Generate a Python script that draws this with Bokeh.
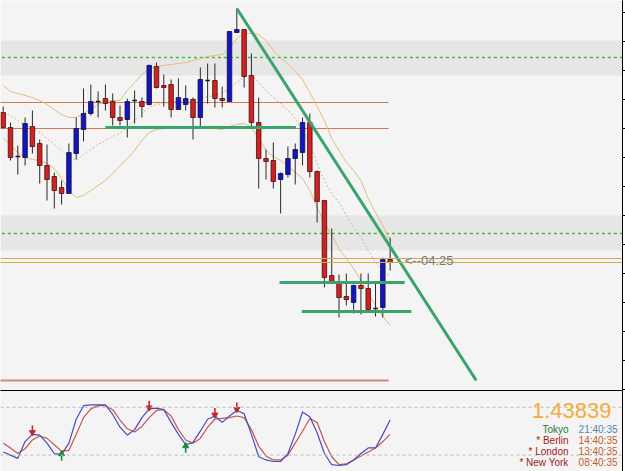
from bokeh.plotting import figure
from bokeh.layouts import column
from bokeh.models import (Range1d, LinearAxis, FixedTicker, Span, Label, BoxAnnotation)
from bokeh.embed import file_html
from bokeh.resources import INLINE

# ---------------- data (EURUSD, hourly) ----------------
opens = [1.44589, 1.44514, 1.44369, 1.44364, 1.44519, 1.44434, 1.44324, 1.44269, 1.44214, 1.44184,
         1.44384, 1.44504, 1.44584, 1.44644, 1.44659, 1.44644, 1.44564, 1.44554, 1.44649, 1.44644,
         1.44629, 1.44819, 1.44724, 1.44729, 1.44604, 1.44629, 1.44654, 1.44564, 1.44749, 1.44749,
         1.44659, 1.44644, 1.44989, 1.45004, 1.44774, 1.44539, 1.44359, 1.44349, 1.44254, 1.44279,
         1.44359, 1.44389, 1.44539, 1.44294, 1.44149, 1.43774, 1.43739, 1.43669, 1.43639, 1.43724,
         1.43709, 1.43609, 1.43614, 1.43854]
highs = [1.44619, 1.44539, 1.44424, 1.44564, 1.44599, 1.44454, 1.44429, 1.44289, 1.44249, 1.44434,
         1.44564, 1.44709, 1.44729, 1.44694, 1.44729, 1.44684, 1.44624, 1.44659, 1.44699, 1.44664,
         1.44829, 1.44839, 1.44779, 1.44754, 1.44759, 1.44724, 1.44664, 1.44814, 1.44834, 1.44834,
         1.44719, 1.44994, 1.45109, 1.45004, 1.44884, 1.44664, 1.44404, 1.44439, 1.44289, 1.44419,
         1.44434, 1.44564, 1.44584, 1.44299, 1.44149, 1.44009, 1.43779, 1.43784, 1.43729, 1.43784,
         1.43784, 1.43744, 1.43864, 1.43964]
lows = [1.44509, 1.44349, 1.44279, 1.44324, 1.44384, 1.44234, 1.44149, 1.44109, 1.44129, 1.44184,
        1.44354, 1.44444, 1.44574, 1.44564, 1.44599, 1.44524, 1.44524, 1.44464, 1.44534, 1.44564,
        1.44624, 1.44709, 1.44619, 1.44564, 1.44604, 1.44599, 1.44454, 1.44514, 1.44634, 1.44614,
        1.44614, 1.44644, 1.44989, 1.44714, 1.44509, 1.44209, 1.44254, 1.44209, 1.44084, 1.44264,
        1.44229, 1.44324, 1.44264, 1.44039, 1.43714, 1.43734, 1.43564, 1.43624, 1.43584, 1.43579,
        1.43594, 1.43569, 1.43564, 1.43799]
closes = [1.44514, 1.44364, 1.44369, 1.44534, 1.44419, 1.44324, 1.44254, 1.44199, 1.44184, 1.44389,
          1.44509, 1.44584, 1.44644, 1.44644, 1.44634, 1.44564, 1.44549, 1.44644, 1.44649, 1.44619,
          1.44824, 1.44714, 1.44714, 1.44604, 1.44664, 1.44659, 1.44564, 1.44754, 1.44749, 1.44659,
          1.44649, 1.44994, 1.45004, 1.44769, 1.44539, 1.44359, 1.44344, 1.44244, 1.44284, 1.44359,
          1.44404, 1.44539, 1.44294, 1.44144, 1.43764, 1.43739, 1.43664, 1.43654, 1.43724, 1.43709,
          1.43604, 1.43609, 1.43854, 1.43839]

bb_upper = [1.44724, 1.44694, 1.44684, 1.44674, 1.44664, 1.44649, 1.44629, 1.44604, 1.44579, 1.44564,
            1.44564, 1.44584, 1.44604, 1.44629, 1.44644, 1.44649, 1.44649, 1.44699, 1.44739, 1.44779,
            1.44809, 1.44819, 1.44824, 1.44829, 1.44834, 1.44839, 1.44849, 1.44859, 1.44869, 1.44874,
            1.44879, 1.44909, 1.44959, 1.44984, 1.44984, 1.44979, 1.44949, 1.44899, 1.44864, 1.44829,
            1.44794, 1.44754, 1.44689, 1.44619, 1.44549, 1.44459, 1.44399, 1.44339, 1.44299, 1.44249,
            1.44159, 1.44089, 1.44024, 1.43949]
bb_mid = [1.44584, 1.44574, 1.44549, 1.44524, 1.44509, 1.44489, 1.44459, 1.44429, 1.44399, 1.44369,
          1.44349, 1.44379, 1.44404, 1.44429, 1.44449, 1.44469, 1.44484, 1.44519, 1.44549, 1.44584,
          1.44614, 1.44629, 1.44634, 1.44639, 1.44644, 1.44649, 1.44654, 1.44659, 1.44669, 1.44674,
          1.44689, 1.44709, 1.44739, 1.44764, 1.44779, 1.44739, 1.44699, 1.44664, 1.44634, 1.44599,
          1.44559, 1.44499, 1.44434, 1.44334, 1.44249, 1.44184, 1.44139, 1.44074, 1.44014, 1.43964,
          1.43899, 1.43839, 1.43799, 1.43769]
bb_lower = [1.44464, 1.44424, 1.44389, 1.44364, 1.44354, 1.44349, 1.44334, 1.44309, 1.44259, 1.44199,
            1.44164, 1.44174, 1.44199, 1.44224, 1.44249, 1.44284, 1.44324, 1.44359, 1.44399, 1.44449,
            1.44489, 1.44504, 1.44509, 1.44514, 1.44514, 1.44514, 1.44514, 1.44514, 1.44514, 1.44509,
            1.44504, 1.44519, 1.44529, 1.44534, 1.44514, 1.44459, 1.44399, 1.44369, 1.44349, 1.44324,
            1.44289, 1.44259, 1.44199, 1.44114, 1.44039, 1.43974, 1.43909, 1.43859, 1.43809, 1.43749,
            1.43689, 1.43624, 1.43569, 1.43524]

stoch_main = [24, 20, 16, 37, 46, 45, 35, 22, 21, 35, 65, 82, 83, 83, 83, 71, 55, 45, 52, 67,
              78, 79, 77, 61, 46, 33, 36, 50, 65, 69, 61, 69, 76, 72, 46, 18, 14, 12, 12, 22,
              46, 74, 68, 48, 22, 8, 7, 8, 14, 22, 29, 29, 46, 64]
stoch_signal = [35, 29, 22, 28, 39, 44, 41, 33, 25, 26, 46, 67, 78, 82, 82, 77, 64, 53, 49, 56,
                67, 76, 77, 69, 52, 39, 35, 41, 55, 65, 66, 67, 69, 67, 52, 31, 19, 14, 14, 20,
                35, 50, 66, 61, 37, 18, 8, 9, 14, 19, 24, 29, 37, 46]
sell_idx = [4, 20, 29, 32]
sell_val = [46, 77, 68, 75]
buy_idx = [8, 25]
buy_val = [24, 34]
stoch_levels = [80, 20]

price_ticks = [1.45089, 1.44944, 1.44799, 1.44654, 1.44509, 1.44364, 1.44219, 1.44074,
               1.43929, 1.43784, 1.43639, 1.43494, 1.43349, 1.43204]
zones = [(1.44774, 1.44949), (1.43899, 1.44074)]
zone_mid = [1.44864, 1.43984]
pivot_levels = [1.44639, 1.44509, 1.43249]
pivot_end = 52.8
bid, ask = 1.43839, 1.43859
trend_x = [32, 64.8]
trend_y = [1.45109, 1.43249]
support_y = [1.44514, 1.43739, 1.43594]
support_x0 = [14.0, 37.85, 40.9]
support_x1 = [40.1, 55.0, 55.9]
countdown = "<--04:25"
price_text = "1.43839"
sessions = ["Tokyo", "* Berlin", "* London", "* New York"]
session_times = ["21:40:35", "14:40:35", "13:40:35", "08:40:35"]

FONT = "Liberation Sans"


def border_axis(minor=None, tick_out=0):
    return LinearAxis(ticker=FixedTicker(ticks=[], minor_ticks=minor or []),
                      major_tick_line_color=None, minor_tick_in=0, minor_tick_out=tick_out,
                      minor_tick_line_color="black", axis_line_color="black",
                      major_label_standoff=0)


# ---------------- main price panel ----------------
BG = "#f4f4f4"
XR = Range1d(-0.37, 84.83)
p1 = figure(width=625, height=390, x_range=XR, y_range=Range1d(1.43199, 1.45149),
            output_backend="svg", toolbar_location=None, x_axis_type=None, y_axis_type=None,
            min_border_left=0, min_border_right=0, min_border_top=0, min_border_bottom=0,
            background_fill_color=BG, border_fill_color="white", outline_line_color=None)

for lo, hi in zones:
    p1.add_layout(BoxAnnotation(bottom=lo, top=hi, fill_color="#e6e6e6", fill_alpha=1,
                                line_color=None, level="underlay"))
p1.segment(x0=[-1] * len(zone_mid), x1=[90] * len(zone_mid), y0=zone_mid, y1=zone_mid,
           line_color="#3cc03c", line_dash="3 3", line_width=1.3)

p1.segment(x0=[-1] * len(pivot_levels), x1=[pivot_end] * len(pivot_levels),
           y0=pivot_levels, y1=pivot_levels,
           line_color=["#d8784e", "#d8784e", "#cc8a74"], line_width=[1.2, 1.2, 2])
for yv in (ask, bid):
    p1.add_layout(Span(location=yv, dimension="width", line_color="#d4aa55", line_width=1))

# bollinger bands
idx = list(range(len(opens)))
p1.line(idx, bb_upper, line_color="#e2bc78", line_width=1)
p1.line(idx, bb_lower, line_color="#e2bc78", line_width=1)
p1.line(idx, bb_mid, line_color="#d8b48a", line_width=1, line_dash="2 2")

# candles
p1.segment(x0=idx, x1=idx, y0=highs, y1=lows, line_color="#2a2a2a", line_width=1)
bull = [i for i in idx if closes[i] > opens[i]]
bear = [i for i in idx if closes[i] < opens[i]]
doji = [i for i in idx if closes[i] == opens[i]]
p1.vbar(x=bull, width=0.62, bottom=[opens[i] for i in bull], top=[closes[i] for i in bull],
        fill_color="#1414c0", line_color="#101040", line_width=0.8)
p1.vbar(x=bear, width=0.62, top=[opens[i] for i in bear], bottom=[closes[i] for i in bear],
        fill_color="#d42020", line_color="#401010", line_width=0.8)
p1.segment(x0=[i - 0.31 for i in doji], x1=[i + 0.31 for i in doji],
           y0=[opens[i] for i in doji], y1=[opens[i] for i in doji],
           line_color="#111111", line_width=1.5)

# hand-drawn lines
p1.segment(x0=support_x0, x1=support_x1, y0=support_y, y1=support_y,
           line_color="#3aa36c", line_width=3)
p1.line(trend_x, trend_y, line_color="#3aa36c", line_width=3)

p1.add_layout(Label(x=55.0, y=(bid + ask) / 2, text=countdown, text_font=FONT,
                    text_font_size="13px", text_color="#7a7a7a", text_baseline="middle",
                    text_align="left"))

p1.add_layout(border_axis(price_ticks, 3), "right")
p1.add_layout(border_axis(), "below")

# ---------------- stochastic panel ----------------
p2 = figure(width=625, height=81, x_range=XR, y_range=Range1d(-0.5, 101),
            output_backend="svg", toolbar_location=None, x_axis_type=None, y_axis_type=None,
            min_border_left=0, min_border_right=0, min_border_top=0, min_border_bottom=0,
            background_fill_color=BG, border_fill_color="white", outline_line_color=None)
for lv in stoch_levels:
    p2.add_layout(Span(location=lv, dimension="width", line_color="#b8b8b8",
                       line_dash="3 3", line_width=1))
p2.line(idx, stoch_signal, line_color="#c2564e", line_width=1.2)
p2.line(idx, stoch_main, line_color="#4a4ac4", line_width=1.2)

p2.segment(x0=sell_idx, x1=sell_idx, y0=[v + 3 for v in sell_val], y1=[v + 11 for v in sell_val],
           line_color="#c42828", line_width=1.6)
p2.scatter(sell_idx, [v + 2.5 for v in sell_val], marker="inverted_triangle", size=6,
           fill_color="#c42828", line_color="#c42828")
p2.segment(x0=buy_idx, x1=buy_idx, y0=[v - 3 for v in buy_val], y1=[v - 11 for v in buy_val],
           line_color="#1e8a3c", line_width=1.6)
p2.scatter(buy_idx, [v - 2.5 for v in buy_val], marker="triangle", size=6,
           fill_color="#1e8a3c", line_color="#1e8a3c")

p2.add_layout(Label(x=611, y=61, x_units="screen", y_units="screen", text=price_text,
                    text_font=FONT, text_font_size="22px",
                    text_color="#f2ac3c", text_align="right", text_baseline="alphabetic"))
name_colors = ["#1e7a2e", "#a01818", "#a01818", "#a01818"]
time_colors = ["#4f8aa8", "#c0602a", "#c0602a", "#c0602a"]
for k, (nm, tm) in enumerate(zip(sessions, session_times)):
    ys = 42 - 11 * k
    p2.add_layout(Label(x=568, y=ys, x_units="screen", y_units="screen", text=nm,
                        text_font=FONT, text_font_size="10px",
                        text_color=name_colors[k], text_align="right", text_baseline="alphabetic"))
    p2.add_layout(Label(x=617, y=ys, x_units="screen", y_units="screen", text=tm,
                        text_font=FONT, text_font_size="10px",
                        text_color=time_colors[k], text_align="right", text_baseline="alphabetic"))

p2.add_layout(border_axis(), "right")
p2.add_layout(border_axis(), "above")

layout = column(p1, p2, spacing=0)
open("out.html", "w").write(file_html(layout, INLINE))
